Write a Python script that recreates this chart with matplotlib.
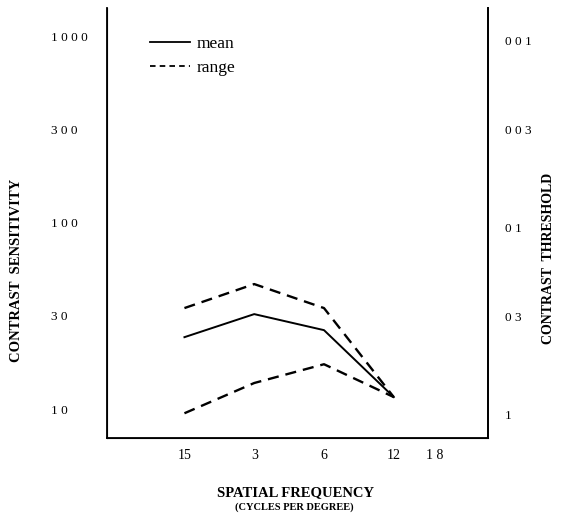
import matplotlib
matplotlib.use("Agg")
import matplotlib.pyplot as plt
from matplotlib.lines import Line2D

plt.rcParams['lines.scale_dashes'] = False

# Data
freq = [1.5, 3, 6, 12]
mean_cs = [24.3, 32.3, 26.5, 11.6]
range_hi = [34.8, 46.8, 34.8, 11.6]
range_lo = [9.5, 13.8, 17.4, 11.6]

x_ticks = [1.5, 3, 6, 12, 18]
x_ticklabels = ["15", "3", "6", "12", "1 8"]
y_ticks = [10, 10**1.5, 100, 10**2.5, 1000]
y_ticklabels = ["1 0", "3 0", "1 0 0", "3 0 0", "1 0 0 0"]
y2_ticks = [0.1, 0.03, 0.01, 0.003, 0.001]
y2_ticklabels = ["1", "0 3", "0 1", "0 0 3", "0 0 1"]

W, H = 571, 516
fig = plt.figure(figsize=(W / 100, H / 100), dpi=100)
ax = fig.add_axes([107 / W, 1 - 438 / H, (488 - 107) / W, (438 - 8) / H])

ax.set_xscale('log')
ax.set_yscale('log')
ax.set_xlim(0.695, 30.6)
ax.set_ylim(7.0, 1413)

dash = (0, (8, 5))
ax.plot(freq, mean_cs, color='black', lw=1.4, label='mean')
ax.plot(freq, range_hi, color='black', lw=1.7, linestyle=dash, label='range')
ax.plot(freq, range_lo, color='black', lw=1.7, linestyle=dash)

ax.set_xticks(x_ticks)
ax.set_xticklabels(x_ticklabels, fontfamily='Liberation Serif', fontsize=10)
ax.set_xticks([], minor=True)
ax.set_yticks(y_ticks)
ax.set_yticklabels(y_ticklabels, fontfamily='Liberation Serif', fontsize=9.5)
ax.set_yticks([], minor=True)
ax.tick_params(axis='both', length=0)
ax.tick_params(axis='x', pad=8)
ax.tick_params(axis='y', pad=40)
for lbl in ax.get_yticklabels():
    lbl.set_horizontalalignment('left')

ax.spines['top'].set_visible(False)
for s in ['left', 'bottom', 'right']:
    ax.spines[s].set_linewidth(1.3)

ax2 = ax.twinx()
ax2.set_yscale('log')
ax2.set_ylim(0.134, 6.74e-4)
ax2.set_yticks(y2_ticks)
ax2.set_yticklabels(y2_ticklabels, fontfamily='Liberation Serif', fontsize=9.5)
ax2.set_yticks([], minor=True)
ax2.tick_params(axis='y', length=0, pad=12)
ax2.spines['top'].set_visible(False)
ax2.spines['right'].set_linewidth(1.3)

handles = [Line2D([], [], color='black', lw=1.3),
           Line2D([], [], color='black', lw=1.3, linestyle=(0, (4, 3)))]
leg = ax.legend(handles, ['mean', 'range'], loc='upper left',
                bbox_to_anchor=((150 - 107) / 381, (438 - 36) / 430),
                frameon=False, borderpad=0, borderaxespad=0,
                prop={'family': 'Liberation Serif', 'size': 12.5},
                handlelength=2.3, handletextpad=0.4, labelspacing=0.45)

fig.text(17 / W, 1 - 270 / H, 'CONTRAST  SENSITIVITY', rotation=90,
         ha='center', va='center', fontfamily='Liberation Serif',
         fontweight='bold', fontsize=10.5)
fig.text(548 / W, 1 - 258 / H, 'CONTRAST  THRESHOLD', rotation=90,
         ha='center', va='center', fontfamily='Liberation Serif',
         fontweight='bold', fontsize=10)
fig.text(296 / W, 1 - 493 / H, 'SPATIAL FREQUENCY', ha='center', va='center',
         fontfamily='Liberation Serif', fontweight='bold', fontsize=10.5)
fig.text(294 / W, 1 - 507 / H, '(CYCLES PER DEGREE)', ha='center', va='center',
         fontfamily='Liberation Serif', fontweight='bold', fontsize=7.5)

fig.savefig('out.png', dpi=100)
